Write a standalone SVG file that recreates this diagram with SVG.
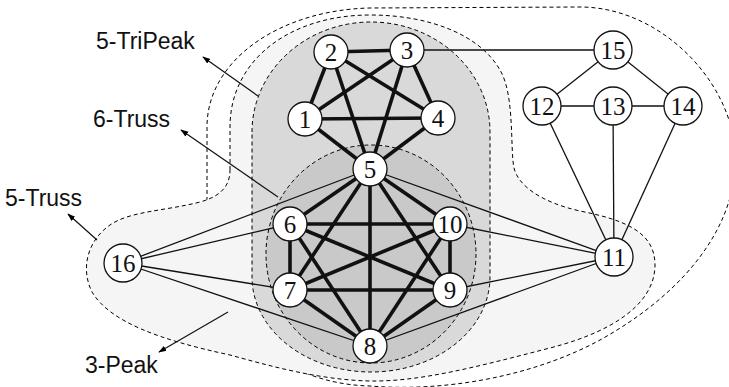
<svg xmlns="http://www.w3.org/2000/svg" width="729" height="387" viewBox="0 0 729 387">
<defs>
<marker id="ah" viewBox="0 0 10 10" refX="9" refY="5" markerWidth="8" markerHeight="8" markerUnits="userSpaceOnUse" orient="auto">
<path d="M0,1.5 L10,5 L0,8.5 Z" fill="#000"/>
</marker>
<style>
.reg{stroke:#000;stroke-width:1;stroke-dasharray:4 3}
.thin{stroke:#111;stroke-width:1.3;fill:none}
.thick{stroke:#111;stroke-width:3.6;fill:none}
.node circle{fill:#fff;stroke:#111;stroke-width:1.3}
.node text{font-family:"Liberation Serif","DejaVu Serif",serif;font-size:25px;text-anchor:middle;fill:#111}
.lbl{font-family:"Liberation Sans",Arial,sans-serif;font-size:23px;fill:#111}
.arr{stroke:#111;stroke-width:1.2;fill:none;marker-end:url(#ah)}
</style>
</defs>
<rect width="729" height="387" fill="#fff"/>
<g id="regions">
<path id="peak3" class="reg" fill="none" d="M207,250 L207,127 C207,60 280,10 370,8 L580,7 C660,7 730,80 735,150 C740,220 690,290 600,340 C530,378 440,392 370,386 C280,384 212,320 207,250 Z"/>
<path id="truss5" class="reg" fill="#f5f5f5" d="M230,170 L230,127 C230,60 290,15 370,15 C430,15 480,35 500,70 C515,95 510,150 514,168 C518,185 540,202 580,211 C625,220 655,232 655,265 C655,300 620,330 550,348 C480,366 420,382 370,381 C320,380 270,366 230,355 C160,340 110,322 92,292 C80,268 88,240 110,225 C130,211 165,211 200,202 C222,196 230,185 230,170 Z"/>
<path id="tripeak5" class="reg" fill="#d9d9d9" d="M252,132 A119,110 0 0 1 490,132 L490,277 A119,95 0 0 1 252,277 Z"/>
<ellipse id="truss6" class="reg" fill="#c9c9c9" cx="371" cy="254" rx="105" ry="109"/>
</g>
<g id="connectors">
<line class="thin" x1="407" y1="50" x2="613" y2="50"/>
<line class="thin" x1="613" y1="50" x2="542" y2="106"/>
<line class="thin" x1="613" y1="50" x2="683" y2="106"/>
<line class="thin" x1="542" y1="106" x2="613" y2="106"/>
<line class="thin" x1="613" y1="106" x2="683" y2="106"/>
<line class="thin" x1="542" y1="106" x2="614" y2="257"/>
<line class="thin" x1="613" y1="106" x2="614" y2="257"/>
<line class="thin" x1="683" y1="106" x2="614" y2="257"/>
<line class="thin" x1="614" y1="257" x2="370" y2="169"/>
<line class="thin" x1="614" y1="257" x2="450" y2="224"/>
<line class="thin" x1="614" y1="257" x2="450" y2="290"/>
<line class="thin" x1="614" y1="257" x2="370" y2="346"/>
<line class="thin" x1="123" y1="263" x2="370" y2="169"/>
<line class="thin" x1="123" y1="263" x2="290" y2="224"/>
<line class="thin" x1="123" y1="263" x2="290" y2="290"/>
<line class="thin" x1="123" y1="263" x2="370" y2="346"/>
<line class="thick" x1="331" y1="52" x2="407" y2="50"/>
<line class="thick" x1="331" y1="52" x2="305" y2="119"/>
<line class="thick" x1="331" y1="52" x2="438" y2="118"/>
<line class="thick" x1="331" y1="52" x2="370" y2="169"/>
<line class="thick" x1="407" y1="50" x2="305" y2="119"/>
<line class="thick" x1="407" y1="50" x2="438" y2="118"/>
<line class="thick" x1="407" y1="50" x2="370" y2="169"/>
<line class="thick" x1="305" y1="119" x2="438" y2="118"/>
<line class="thick" x1="305" y1="119" x2="370" y2="169"/>
<line class="thick" x1="438" y1="118" x2="370" y2="169"/>
<line class="thick" x1="370" y1="169" x2="290" y2="224"/>
<line class="thick" x1="370" y1="169" x2="290" y2="290"/>
<line class="thick" x1="370" y1="169" x2="370" y2="346"/>
<line class="thick" x1="370" y1="169" x2="450" y2="290"/>
<line class="thick" x1="370" y1="169" x2="450" y2="224"/>
<line class="thick" x1="290" y1="224" x2="450" y2="224"/>
<line class="thick" x1="290" y1="224" x2="290" y2="290"/>
<line class="thick" x1="290" y1="224" x2="370" y2="346"/>
<line class="thick" x1="290" y1="224" x2="450" y2="290"/>
<line class="thick" x1="450" y1="224" x2="450" y2="290"/>
<line class="thick" x1="450" y1="224" x2="290" y2="290"/>
<line class="thick" x1="450" y1="224" x2="370" y2="346"/>
<line class="thick" x1="290" y1="290" x2="450" y2="290"/>
<line class="thick" x1="290" y1="290" x2="370" y2="346"/>
<line class="thick" x1="450" y1="290" x2="370" y2="346"/>
</g>
<g id="n1" class="node"><circle cx="305" cy="119" r="17"/><text x="305" y="127.5">1</text></g>
<g id="n2" class="node"><circle cx="331" cy="52" r="17"/><text x="331" y="60.5">2</text></g>
<g id="n3" class="node"><circle cx="407" cy="50" r="17"/><text x="407" y="58.5">3</text></g>
<g id="n4" class="node"><circle cx="438" cy="118" r="17"/><text x="438" y="126.5">4</text></g>
<g id="n5" class="node"><circle cx="370" cy="169" r="17"/><text x="370" y="177.5">5</text></g>
<g id="n6" class="node"><circle cx="290" cy="224" r="17"/><text x="290" y="232.5">6</text></g>
<g id="n7" class="node"><circle cx="290" cy="290" r="17"/><text x="290" y="298.5">7</text></g>
<g id="n8" class="node"><circle cx="370" cy="346" r="17"/><text x="370" y="354.5">8</text></g>
<g id="n9" class="node"><circle cx="450" cy="290" r="17"/><text x="450" y="298.5">9</text></g>
<g id="n10" class="node"><circle cx="450" cy="224" r="17"/><text x="450" y="232.5">10</text></g>
<g id="n11" class="node"><circle cx="614" cy="257" r="19"/><text x="614" y="265.5">11</text></g>
<g id="n12" class="node"><circle cx="542" cy="106" r="19"/><text x="542" y="114.5">12</text></g>
<g id="n13" class="node"><circle cx="613" cy="106" r="19"/><text x="613" y="114.5">13</text></g>
<g id="n14" class="node"><circle cx="683" cy="106" r="19"/><text x="683" y="114.5">14</text></g>
<g id="n15" class="node"><circle cx="613" cy="50" r="19"/><text x="613" y="58.5">15</text></g>
<g id="n16" class="node"><circle cx="123" cy="263" r="19"/><text x="123" y="271.5">16</text></g>
<g id="labels">
<line class="arr" x1="258" y1="96" x2="203" y2="57"/>
<line class="arr" x1="278" y1="197" x2="181" y2="130"/>
<line class="arr" x1="97" y1="240" x2="68" y2="214"/>
<line class="arr" x1="228" y1="312" x2="159" y2="352"/>
<text class="lbl" x="96" y="49">5-TriPeak</text>
<text class="lbl" x="93" y="127">6-Truss</text>
<text class="lbl" x="5" y="206">5-Truss</text>
<text class="lbl" x="85" y="373">3-Peak</text>
</g>
</svg>
